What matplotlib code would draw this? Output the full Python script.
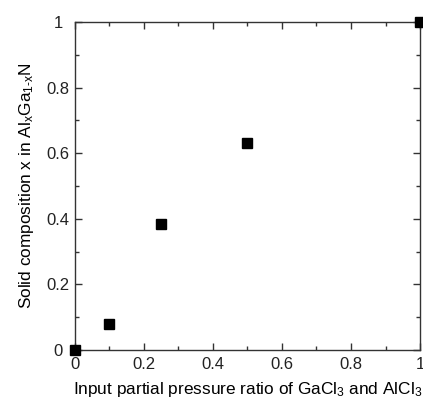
import matplotlib
matplotlib.use("Agg")
import matplotlib.pyplot as plt
from matplotlib.ticker import MultipleLocator, FuncFormatter

# dane
ratio = [0.0, 0.1, 0.25, 0.5, 1.0]
composition = [0.0, 0.08, 0.385, 0.632, 1.0]

plt.rcParams['font.family'] = ['Liberation Sans', 'DejaVu Sans']
plt.rcParams['mathtext.fontset'] = 'custom'
plt.rcParams['mathtext.rm'] = 'Liberation Sans'
plt.rcParams['mathtext.it'] = 'Liberation Sans'

fig = plt.figure(figsize=(4.23, 3.99), dpi=100)
ax = fig.add_axes([0.177, 0.123, 0.816, 0.822])

ax.plot(ratio, composition, 's', color='black', markersize=7, clip_on=False, zorder=5)

ax.set_xlim(0, 1)
ax.set_ylim(0, 1)
ax.xaxis.set_major_locator(MultipleLocator(0.2))
ax.xaxis.set_minor_locator(MultipleLocator(0.1))
ax.yaxis.set_major_locator(MultipleLocator(0.2))
ax.yaxis.set_minor_locator(MultipleLocator(0.1))

def fmt(v, pos):
    if abs(v) < 1e-9:
        return '0'
    if abs(v - 1) < 1e-9:
        return '1'
    return '%.1f' % v

ax.xaxis.set_major_formatter(FuncFormatter(fmt))
ax.yaxis.set_major_formatter(FuncFormatter(fmt))

ax.tick_params(which='both', direction='in', top=True, right=True, labelsize=12, colors='#333333', labelcolor='#222222')
ax.tick_params(which='major', length=5, width=1)
ax.tick_params(which='minor', length=3, width=1)
ax.tick_params(axis='y', pad=12)
ax.tick_params(axis='x', pad=5)
for lab in ax.get_yticklabels():
    lab.set_horizontalalignment('center')
for s in ax.spines.values():
    s.set_color('#333333')
    s.set_linewidth(1)

ax.set_xlabel('Input partial pressure ratio of GaCl$_3$ and AlCl$_3$', fontsize=12.4, labelpad=6)
ax.set_ylabel('Solid composition x in Al$_x$Ga$_{1\u2010x}$N', fontsize=12.4, labelpad=8)

fig.savefig('out.png', dpi=100)
